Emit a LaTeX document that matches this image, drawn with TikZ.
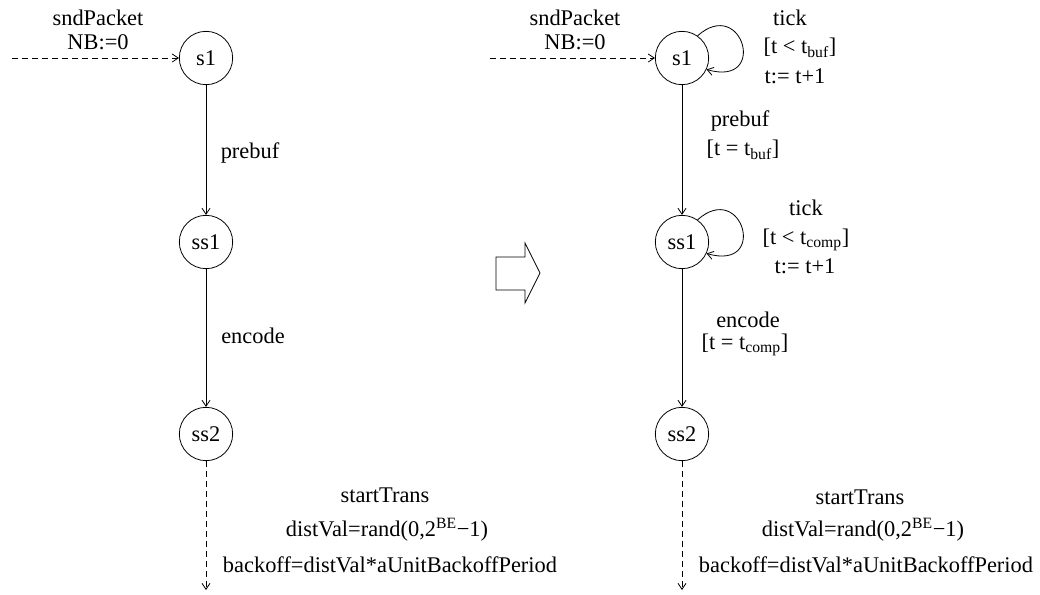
\documentclass[tikz,border=0pt]{standalone}
\usepackage{fontspec}
\setmainfont{Liberation Serif}
\usetikzlibrary{arrows.meta}

\tikzset{
  state/.style={draw, circle, minimum size=40pt, inner sep=0pt},
  lbl/.style={inner sep=0pt, anchor=center},
  trans/.style={-{Straight Barb[length=4.5pt,width=6pt]}},
  extern/.style={trans, dash pattern=on 4.5pt off 3pt},
}

\begin{document}
\begin{tikzpicture}[x=0.75pt, y=-0.75pt, line width=0.6pt, font=\fontsize{16.8}{20}\selectfont]
\useasboundingbox (0,0) rectangle (1040,594);

% left automaton
\node[state] (s1a) at (206,58) {s1};
\node[state] (ss1a) at (206,242) {ss1};
\node[state] (ss2a) at (206,434) {ss2};
\coordinate (ina) at (12,58);
\coordinate (outa) at (206,590);

\node[lbl] (snda) at (98,18) {sndPacket};
\node[lbl] (nba) at (98,42) {NB:=0};
\node[lbl] (prebufa) at (250,153) {prebuf};
\node[lbl] (encodea) at (253,336) {encode};
\node[lbl] (starta) at (385,495) {startTrans};
\node[lbl] (distvala) at (387,530) {distVal=rand(0,2\textsuperscript{BE}−1)};
\node[lbl] (backoffa) at (390,565) {backoff=distVal*aUnitBackoffPeriod};

\draw[extern] (ina) -- (s1a);
\draw[trans] (s1a) -- (ss1a);
\draw[trans] (ss1a) -- (ss2a);
\draw[extern] (ss2a) -- (outa);

% refinement arrow
\draw (496,257) -- (525,257) -- (525,243) -- (540,273) -- (525,303) -- (525,290) -- (496,290) -- cycle;

% right automaton
\node[state] (s1b) at (682,58) {s1};
\node[state] (ss1b) at (682,242) {ss1};
\node[state] (ss2b) at (682,434) {ss2};
\coordinate (inb) at (490,58);
\coordinate (outb) at (682,590);

\node[lbl] (sndb) at (575,18) {sndPacket};
\node[lbl] (nbb) at (575,42) {NB:=0};
\node[lbl] (tick1b) at (790,18) {tick};
\node[lbl] (guard1b) at (800,48) {[t < t\textsubscript{buf}]};
\node[lbl] (upd1b) at (795,76) {t:= t+1};
\node[lbl] (prebufb) at (740,121) {prebuf};
\node[lbl] (guard2b) at (743,150) {[t = t\textsubscript{buf}]};
\node[lbl] (tick2b) at (806,208) {tick};
\node[lbl] (guard3b) at (806,240) {[t < t\textsubscript{comp}]};
\node[lbl] (upd2b) at (805,266) {t:= t+1};
\node[lbl] (encodeb) at (748,320) {encode};
\node[lbl] (guard4b) at (745,345) {[t = t\textsubscript{comp}]};
\node[lbl] (startb) at (860,497) {startTrans};
\node[lbl] (distvalb) at (863,530) {distVal=rand(0,2\textsuperscript{BE}−1)};
\node[lbl] (backoffb) at (866,565) {backoff=distVal*aUnitBackoffPeriod};

\draw[extern] (inb) -- (s1b);
\draw[trans] (s1b.55) .. controls +(45,-40) and +(62,18) .. (s1b.-25);
\draw[trans] (s1b) -- (ss1b);
\draw[trans] (ss1b.55) .. controls +(45,-40) and +(62,18) .. (ss1b.-25);
\draw[trans] (ss1b) -- (ss2b);
\draw[extern] (ss2b) -- (outb);
\end{tikzpicture}
\end{document}
